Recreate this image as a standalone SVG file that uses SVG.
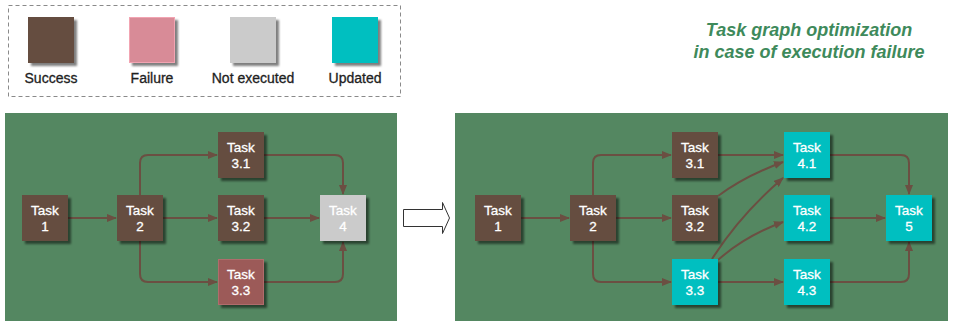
<svg xmlns="http://www.w3.org/2000/svg" width="953" height="321" viewBox="0 0 953 321">
  <defs>
    <filter id="shadow" x="-20%" y="-20%" width="150%" height="150%">
      <feDropShadow dx="3" dy="3" stdDeviation="1.2" flood-color="#000" flood-opacity="0.5"/>
    </filter>
    <marker id="arrow" viewBox="0 0 10 8" refX="9" refY="4" markerWidth="5" markerHeight="4" orient="auto" markerUnits="strokeWidth">
      <path d="M0,0 L10,4 L0,8 z" fill="#6b4f42"/>
    </marker>
  </defs>
  <style>
    .panel { fill: #548761; }
    .node rect { filter: url(#shadow); }
    .success { fill: #654d40; }
    .failure { fill: #9c5a58; stroke: #b06c6c; stroke-width: 1; }
    .failure-legend { fill: #d88b97; stroke: #f2a4b2; stroke-width: 1; }
    .notexec { fill: #cbcbcb; }
    .updated { fill: #00bfc0; }
    .node text { font-family: "Liberation Sans", Arial, sans-serif; font-size: 13.5px; fill: #ffffff; stroke: #ffffff; stroke-width: 0.3; text-anchor: middle; }
    .legend text { font-family: "Liberation Sans", Arial, sans-serif; font-size: 14px; fill: #1e1e1e; stroke: #1e1e1e; stroke-width: 0.3; text-anchor: middle; }
    .title { font-family: "Liberation Sans", Arial, sans-serif; font-size: 18px; font-weight: bold; font-style: italic; fill: #3e8a5b; text-anchor: middle; }
    .edges path { fill: none; stroke: #6b4f42; stroke-width: 2; marker-end: url(#arrow); }
  </style>

  <rect width="953" height="321" fill="#ffffff"/>

  <!-- Legend -->
  <g id="legend" class="legend">
    <rect x="8.5" y="5.5" width="392" height="91" fill="none" stroke="#8a8a8a" stroke-width="1" stroke-dasharray="4,3"/>
    <rect x="28" y="17" width="46" height="46" class="success" filter="url(#shadow)"/>
    <rect x="129.5" y="17.5" width="45" height="45" class="failure-legend" filter="url(#shadow)"/>
    <rect x="230" y="17" width="46" height="46" class="notexec" filter="url(#shadow)"/>
    <rect x="332" y="17" width="46" height="46" class="updated" filter="url(#shadow)"/>
    <text x="51" y="83">Success</text>
    <text x="152" y="83">Failure</text>
    <text x="253" y="83">Not executed</text>
    <text x="355" y="83">Updated</text>
  </g>

  <!-- Title -->
  <g id="title">
    <text class="title" x="809" y="36">Task graph optimization</text>
    <text class="title" x="809" y="58">in case of execution failure</text>
  </g>

  <!-- Panels -->
  <rect class="panel" x="5" y="113" width="392" height="208"/>
  <rect class="panel" x="455" y="113" width="493" height="208"/>

  <!-- Transition arrow -->
  <path id="transition" d="M403.5,209.5 H442.5 V202.5 L449.5,218 L442.5,233.5 V226.5 H403.5 Z" fill="#ffffff" stroke="#333333" stroke-width="1"/>

  <!-- Connectors -->
  <g id="connectors" class="edges">
    <!-- before -->
    <path d="M68,218 H116"/>
    <path d="M140,195 V163 Q140,155 148,155 H217"/>
    <path d="M163,218 H217"/>
    <path d="M140,241 V274 Q140,282 148,282 H217"/>
    <path d="M264,155 H335 Q343,155 343,163 V194"/>
    <path d="M264,218 H319"/>
    <path d="M264,282 H335 Q343,282 343,274 V242"/>
    <!-- after -->
    <path d="M521,218 H569"/>
    <path d="M593,195 V163 Q593,155 601,155 H671"/>
    <path d="M616,218 H671"/>
    <path d="M593,241 V274 Q593,282 601,282 H671"/>
    <path d="M718,155 H783"/>
    <path d="M718,196 Q745,176 783,162"/>
    <path d="M712,259 Q740,215 783,178"/>
    <path d="M718,260 Q745,236 783,222"/>
    <path d="M718,282 H783"/>
    <path d="M830,155 H901 Q909,155 909,163 V194"/>
    <path d="M830,218 H885"/>
    <path d="M830,282 H901 Q909,282 909,274 V242"/>
  </g>

  <!-- Nodes: before -->
  <g id="a-task1" class="node"><rect class="success" x="22" y="195" width="46" height="46"/><text x="45" y="215">Task</text><text x="45" y="231">1</text></g>
  <g id="a-task2" class="node"><rect class="success" x="117" y="195" width="46" height="46"/><text x="140" y="215">Task</text><text x="140" y="231">2</text></g>
  <g id="a-task31" class="node"><rect class="success" x="218" y="132" width="46" height="46"/><text x="241" y="152">Task</text><text x="241" y="168">3.1</text></g>
  <g id="a-task32" class="node"><rect class="success" x="218" y="195" width="46" height="46"/><text x="241" y="215">Task</text><text x="241" y="231">3.2</text></g>
  <g id="a-task33" class="node"><rect class="failure" x="218.5" y="259.5" width="45" height="45"/><text x="241" y="279">Task</text><text x="241" y="295">3.3</text></g>
  <g id="a-task4" class="node"><rect class="notexec" x="320" y="195" width="46" height="46"/><text x="343" y="215">Task</text><text x="343" y="231">4</text></g>

  <!-- Nodes: after -->
  <g id="b-task1" class="node"><rect class="success" x="475" y="195" width="46" height="46"/><text x="498" y="215">Task</text><text x="498" y="231">1</text></g>
  <g id="b-task2" class="node"><rect class="success" x="570" y="195" width="46" height="46"/><text x="593" y="215">Task</text><text x="593" y="231">2</text></g>
  <g id="b-task31" class="node"><rect class="success" x="672" y="132" width="46" height="46"/><text x="695" y="152">Task</text><text x="695" y="168">3.1</text></g>
  <g id="b-task32" class="node"><rect class="success" x="672" y="195" width="46" height="46"/><text x="695" y="215">Task</text><text x="695" y="231">3.2</text></g>
  <g id="b-task33" class="node"><rect class="updated" x="672" y="259" width="46" height="46"/><text x="695" y="279">Task</text><text x="695" y="295">3.3</text></g>
  <g id="b-task41" class="node"><rect class="updated" x="784" y="132" width="46" height="46"/><text x="807" y="152">Task</text><text x="807" y="168">4.1</text></g>
  <g id="b-task42" class="node"><rect class="updated" x="784" y="195" width="46" height="46"/><text x="807" y="215">Task</text><text x="807" y="231">4.2</text></g>
  <g id="b-task43" class="node"><rect class="updated" x="784" y="259" width="46" height="46"/><text x="807" y="279">Task</text><text x="807" y="295">4.3</text></g>
  <g id="b-task5" class="node"><rect class="updated" x="886" y="195" width="46" height="46"/><text x="909" y="215">Task</text><text x="909" y="231">5</text></g>
</svg>
